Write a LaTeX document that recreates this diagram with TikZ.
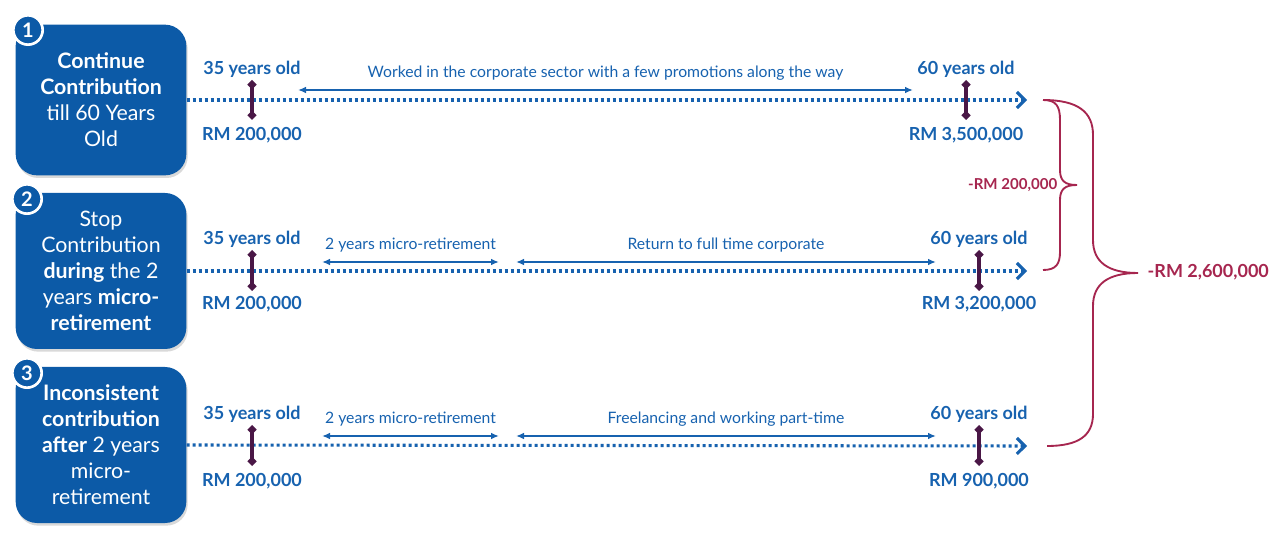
\documentclass[tikz,border=0pt]{standalone}
\usepackage{fontspec}
\setmainfont{Lato}
\usetikzlibrary{arrows.meta,shadows}
\definecolor{boxblue}{HTML}{0C5AA7}
\definecolor{textblue}{HTML}{1762AF}
\definecolor{markpurple}{HTML}{4A1746}
\definecolor{bracered}{HTML}{A6264F}
\tikzset{
  casebox/.style={rectangle, rounded corners=16pt, fill=boxblue, text=white,
    minimum width=128pt, minimum height=117pt, align=center,
    font=\fontsize{16}{19.5}\selectfont,
    drop shadow={shadow xshift=1pt, shadow yshift=-2pt, opacity=0.3}},
  badge/.style={circle, fill=boxblue, draw=white, line width=2pt, text=white,
    minimum size=22pt, inner sep=0pt, font=\bfseries\fontsize{15}{15}\selectfont},
  agelabel/.style={text=textblue, inner sep=2pt, font=\bfseries\fontsize{13.5}{15}\selectfont},
  phaselabel/.style={text=textblue, font=\fontsize{11.8}{13}\selectfont},
  timeline/.style={draw=textblue, line width=2.3pt, dash pattern=on 2.3pt off 2.2pt,
    -{Straight Barb[length=6pt,width=12pt]}},
  phase/.style={draw=textblue, line width=1.4pt,
    {Latex[length=6pt,width=5pt]}-{Latex[length=6pt,width=5pt]}},
  marker/.style={draw=markpurple, line width=2.3pt,
    {Diamond[length=7pt,width=7pt]}-{Diamond[length=7pt,width=7pt]}},
  bracelabel/.style={text=bracered, font=\bfseries\fontsize{11.3}{13}\selectfont},
  bracepath/.style={draw=bracered, line width=1.4pt},
}
\begin{document}
\begin{tikzpicture}[x=0.75pt, y=-0.75pt]
            \useasboundingbox (0,0) rectangle (1278,534);
            % Case boxes
            \node[casebox, minimum height=113pt] (case1) at (101,100)
                {\textbf{Continue}\\ \textbf{Contribution}\\ till 60 Years\\ Old};
            \node[casebox] (case2) at (101,271)
                {Stop\\ Contribution\\ \textbf{during} the 2\\ years \textbf{micro-}\\ \textbf{retirement}};
            \node[casebox] (case3) at (101,445)
                {\textbf{Inconsistent}\\ \textbf{contribution}\\ \textbf{after} 2 years\\ micro-\\ retirement};
            \node[badge] (num1) at (28,30) {1};
            \node[badge] (num2) at (27,199) {2};
            \node[badge] (num3) at (27,373) {3};
            % Row 1
            \coordinate (end1) at (1027,100);
            \draw[timeline] (case1.east) -- (end1);   % Timeline 1
            \coordinate (m1top) at (252,80);
            \coordinate (m1bot) at (252,120);
            \coordinate (n1top) at (966,80);
            \coordinate (n1bot) at (966,120);
            \draw[marker] (m1top) -- (m1bot);
            \draw[marker] (n1top) -- (n1bot);
            \node[agelabel, above] (age1a) at (m1top) {35 years old};
            \node[agelabel, below=3pt] (fund1a) at (m1bot) {RM 200,000};
            \node[agelabel, above] (age1b) at (n1top) {60 years old};
            \node[agelabel, below=3pt] (fund1b) at (n1bot) {RM 3,500,000};
            \coordinate (w1a) at (298,90);
            \coordinate (w1b) at (913,90);
            \draw[phase] (w1a) -- node[phaselabel, above=3.5pt] (work1)
                {Worked in the corporate sector with a few promotions along the way} (w1b);
            % Row 2
            \coordinate (end2) at (1027,271);
            \draw[timeline] (case2.east) -- (end2);   % Timeline 2
            \coordinate (m2top) at (252,250);
            \coordinate (m2bot) at (252,291);
            \coordinate (n2top) at (979,250);
            \coordinate (n2bot) at (979,291);
            \draw[marker] (m2top) -- (m2bot);
            \draw[marker] (n2top) -- (n2bot);
            \node[agelabel, above] (age2a) at (m2top) {35 years old};
            \node[agelabel, below=1.5pt] (fund2a) at (m2bot) {RM 200,000};
            \node[agelabel, above] (age2b) at (n2top) {60 years old};
            \node[agelabel, below=1.5pt] (fund2b) at (n2bot) {RM 3,200,000};
            \coordinate (r2a) at (322,262);
            \coordinate (r2b) at (499,262);
            \coordinate (w2a) at (516,262);
            \coordinate (w2b) at (936,262);
            \draw[phase] (r2a) -- node[phaselabel, above=3.5pt] (rest2) {2 years micro-retirement} (r2b);
            \draw[phase] (w2a) -- node[phaselabel, above=3.5pt] (work2) {Return to full time corporate} (w2b);
            % Row 3
            \coordinate (end3) at (1027,446);
            \draw[timeline] (case3.east) -- (end3);   % Timeline 3
            \coordinate (m3top) at (252,425);
            \coordinate (m3bot) at (252,466);
            \coordinate (n3top) at (979,425);
            \coordinate (n3bot) at (979,466);
            \draw[marker] (m3top) -- (m3bot);
            \draw[marker] (n3top) -- (n3bot);
            \node[agelabel, above] (age3a) at (m3top) {35 years old};
            \node[agelabel, below=3pt] (fund3a) at (m3bot) {RM 200,000};
            \node[agelabel, above] (age3b) at (n3top) {60 years old};
            \node[agelabel, below=3pt] (fund3b) at (n3bot) {RM 900,000};
            \coordinate (r3a) at (322,436);
            \coordinate (r3b) at (499,436);
            \coordinate (w3a) at (516,436);
            \coordinate (w3b) at (936,436);
            \draw[phase] (r3a) -- node[phaselabel, above=3.5pt] (rest3) {2 years micro-retirement} (r3b);
            \draw[phase] (w3a) -- node[phaselabel, above=3.5pt] (work3) {Freelancing and working part-time} (w3b);
            % Braces
            \coordinate (b1) at (1043,100);
            \coordinate (b2) at (1043,270);
            \coordinate (b3) at (1047,446);
            \coordinate (tipA) at (1077,185);
            \coordinate (tipB) at (1138,273);
            \draw[bracepath] (b1) .. controls (1056,100) and (1060,106) .. (1060,120)
                -- (1060,170) .. controls (1060,181) and (1065,185) .. (tipA)
                .. controls (1065,185) and (1060,189) .. (1060,200)
                -- (1060,252) .. controls (1060,264) and (1056,270) .. (b2);
            \draw[bracepath] (b1) .. controls (1078,100) and (1093,112) .. (1093,135)
                -- (1093,240) .. controls (1093,262) and (1108,273) .. (tipB)
                .. controls (1108,273) and (1093,284) .. (1093,306)
                -- (1093,414) .. controls (1093,436) and (1078,446) .. (b3);
            \node[bracelabel, anchor=east] (gapA) at (1062,185) {-RM 200,000};
            \node[bracelabel, anchor=west, font=\bfseries\fontsize{13.5}{15}\selectfont] (gapB) at (1143,272) {-RM 2,600,000};
        \end{tikzpicture}
\end{document}
